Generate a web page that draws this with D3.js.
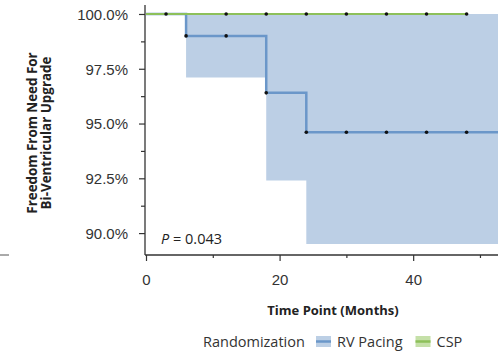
<!DOCTYPE html>
<html>
<head>
<meta charset="utf-8">
<script src="https://cdn.jsdelivr.net/npm/d3@7"></script>
<style>
  body{margin:0;background:#fff;}
  svg{font-family:"Open Sans","Noto Sans",sans-serif;}
</style>
</head>
<body>
<div id="chart"></div>
<script>
// Kaplan-Meier: freedom from need for bi-ventricular upgrade
const rvTimes=[0,6,18,24];
const rvSurv=[100,99.0,96.4,94.6];
const rvLower=[100,97.1,92.4,89.5];
const rvUpper=[100,100,100,100];
const rvCensor=[6,12,18,24,30,36,42,48];
const cspTimes=[0,48];
const cspSurv=[100,100];
const cspCensor=[3,12,18,24,30,36,42,48];
const yTicks=[90,92.5,95,97.5,100];
const xTicks=[0,20,40];
const legendItems=[{name:"RV Pacing",fill:"#bccfe5",line:"#6b97c9"},
                   {name:"CSP",fill:"#c5e0a8",line:"#8dc05a"}];

const width=498,height=354;
const xMax=52.7;
const x=d3.scaleLinear().domain([0,xMax]).range([146,498]);
const y=d3.scaleLinear().domain([89,100.41]).range([255,5]);

const svg=d3.select("#chart").append("svg")
    .attr("width",width).attr("height",height);

// step value at time t
function stepAt(times,vals,t){
    let v=vals[0];
    for (let i=0;i<times.length;i++){ if (t>=times[i]) v=vals[i]; }
    return v;
}

// confidence band
const band=rvTimes.map((t,i)=>({t:t,lo:rvLower[i],hi:rvUpper[i]}));
band.push({t:xMax,lo:rvLower[rvLower.length-1],hi:rvUpper[rvUpper.length-1]});
svg.append("path").datum(band)
    .attr("d",d3.area().curve(d3.curveStepAfter)
        .x(d=>x(d.t)).y0(d=>y(d.lo)).y1(d=>y(d.hi)))
    .attr("fill","#bccfe5");

// survival lines
const rvPts=rvTimes.map((t,i)=>({t:t,s:rvSurv[i]}));
rvPts.push({t:xMax,s:rvSurv[rvSurv.length-1]});
const step=d3.line().curve(d3.curveStepAfter).x(d=>x(d.t)).y(d=>y(d.s));
svg.append("path").datum(rvPts).attr("d",step)
    .attr("fill","none").attr("stroke","#6b97c9").attr("stroke-width",2.5);
const cspPts=cspTimes.map((t,i)=>({t:t,s:cspSurv[i]}));
svg.append("path").datum(cspPts).attr("d",step)
    .attr("fill","none").attr("stroke","#8dc05a").attr("stroke-width",2.2);

// censor marks
svg.selectAll("circle.rv").data(rvCensor).enter().append("circle")
    .attr("cx",d=>x(d)).attr("cy",d=>y(stepAt(rvTimes,rvSurv,d)))
    .attr("r",1.8).attr("fill","#111");
svg.selectAll("circle.csp").data(cspCensor).enter().append("circle")
    .attr("cx",d=>x(d)).attr("cy",d=>y(stepAt(cspTimes,cspSurv,d)))
    .attr("r",1.8).attr("fill","#111");

// axes
const axisColor="#333";
const yMinor=d3.range(90,100.01,1.25);
const yAxis=d3.axisLeft(y).tickValues(yMinor).tickSize(4).tickFormat("");
const yg=svg.append("g").attr("transform","translate(145,0)");
yg.call(yAxis);
yg.selectAll(".tick line").filter(d=>yTicks.includes(d)).attr("x2",-6);
yg.selectAll(".tick").filter(d=>yTicks.includes(d)).append("text")
    .attr("x",-17).attr("dy","0.35em").attr("text-anchor","end")
    .attr("fill","#333").style("font-size","15px")
    .text(d=>d3.format(".1f")(d)+"%");

const xAxis=d3.axisBottom(x).tickValues([0,10,20,30,40,50]).tickSize(3).tickFormat("");
const xg=svg.append("g").attr("transform","translate(0,255)");
xg.call(xAxis);
xg.selectAll(".tick line").filter(d=>xTicks.includes(d)).attr("y2",6);
xg.selectAll(".tick").filter(d=>xTicks.includes(d)).append("text")
    .attr("y",25).attr("dy","0.35em").attr("text-anchor","middle")
    .attr("fill","#333").style("font-size","15px").text(d=>d);

svg.selectAll(".domain").attr("stroke",axisColor).attr("stroke-width",1.3);
svg.selectAll(".tick line").attr("stroke",axisColor).attr("stroke-width",1.2);
xg.select(".domain").attr("d","M145,0H498");
yg.select(".domain").attr("d","M0,5V255");

// small mark at the left edge
svg.append("line").attr("x1",0).attr("x2",9).attr("y1",255).attr("y2",255)
    .attr("stroke","#555").attr("stroke-width",1);

// p value
const pt=svg.append("text").attr("x",161).attr("y",244)
    .attr("fill","#222").style("font-size","14.5px");
pt.append("tspan").style("font-style","italic").text("P");
pt.append("tspan").text(" = 0.043");

// axis titles
const yl=svg.append("text").attr("transform","translate(0,133) rotate(-90)")
    .attr("text-anchor","middle").attr("fill","#222")
    .style("font-size","13.4px").style("font-weight","bold");
yl.append("tspan").attr("x",0).attr("y",37).text("Freedom From Need For");
yl.append("tspan").attr("x",0).attr("y",51).text("Bi-Ventricular Upgrade");

svg.append("text").attr("x",333).attr("y",315).attr("text-anchor","middle")
    .attr("fill","#222").style("font-size","13px").style("font-weight","bold")
    .text("Time Point (Months)");

// legend
const lg=svg.append("g").attr("transform","translate(203,347)");
lg.append("text").attr("x",0).attr("y",0).attr("fill","#333")
    .style("font-size","14.5px").text("Randomization");
let lx=113;
legendItems.forEach(it=>{
    lg.append("rect").attr("x",lx).attr("y",-11).attr("width",15).attr("height",11)
        .attr("fill",it.fill);
    lg.append("line").attr("x1",lx).attr("x2",lx+15).attr("y1",-5.5).attr("y2",-5.5)
        .attr("stroke",it.line).attr("stroke-width",2.5);
    const t=lg.append("text").attr("x",lx+21).attr("y",0).attr("fill","#333")
        .style("font-size","14.5px").text(it.name);
    lx+=21+t.node().getComputedTextLength()+13;
});
</script>
</body>
</html>
